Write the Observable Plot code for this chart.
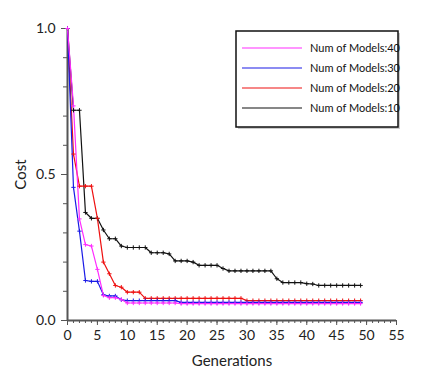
<!DOCTYPE html>
<html><head><meta charset="utf-8">
<script src="https://cdn.jsdelivr.net/npm/d3@7"></script>
<script src="https://cdn.jsdelivr.net/npm/@observablehq/plot@0.6"></script>
<style>
body{margin:0;background:#fff;}
#chart svg{font-family:Lato,"Liberation Sans",sans-serif;}
</style></head>
<body><div id="chart"></div>
<script>
const generations = d3.range(0, 50);
const seriesNames = ["Num of Models:40", "Num of Models:30", "Num of Models:20", "Num of Models:10"];
const seriesColors = ["#ff2cff", "#1a1ae6", "#ee1111", "#111111"];
const models40 = [1.0,0.735,0.348,0.26,0.255,0.175,0.086,0.078,0.078,0.072,
  0.06,0.06,0.06,0.06,0.06,0.06,0.06,0.06,0.06,0.058,
  0.058,0.058,0.058,0.058,0.058,0.058,0.058,0.058,0.058,0.058,
  0.058,0.058,0.058,0.058,0.058,0.058,0.058,0.058,0.058,0.058,
  0.058,0.058,0.058,0.058,0.058,0.058,0.058,0.058,0.058,0.058];
const models30 = [1.0,0.456,0.306,0.137,0.134,0.134,0.088,0.084,0.084,0.071,
  0.068,0.068,0.068,0.068,0.068,0.068,0.068,0.068,0.068,0.062,
  0.062,0.062,0.062,0.062,0.062,0.062,0.062,0.062,0.062,0.062,
  0.062,0.062,0.062,0.062,0.062,0.062,0.062,0.062,0.062,0.062,
  0.062,0.062,0.062,0.062,0.062,0.062,0.062,0.062,0.062,0.062];
const models20 = [1.0,0.57,0.46,0.46,0.46,0.35,0.2,0.16,0.12,0.114,
  0.097,0.097,0.097,0.076,0.076,0.076,0.076,0.076,0.076,0.076,
  0.076,0.076,0.076,0.076,0.076,0.076,0.076,0.076,0.076,0.076,
  0.068,0.068,0.068,0.068,0.068,0.068,0.068,0.068,0.068,0.068,
  0.068,0.068,0.068,0.068,0.068,0.068,0.068,0.068,0.068,0.068];
const models10 = [1.0,0.72,0.72,0.37,0.35,0.35,0.31,0.28,0.28,0.255,
  0.25,0.25,0.25,0.25,0.232,0.232,0.232,0.228,0.204,0.204,
  0.204,0.2,0.189,0.189,0.189,0.189,0.178,0.17,0.17,0.17,
  0.17,0.17,0.17,0.17,0.17,0.143,0.13,0.13,0.13,0.13,
  0.126,0.125,0.12,0.12,0.12,0.12,0.12,0.12,0.12,0.12];
const xMajorTicks = [0,5,10,15,20,25,30,35,40,45,50,55];
const yMajorTicks = [0, 0.5, 1.0];

const seriesValues = [models40, models30, models20, models10];
const drawOrder = [3, 2, 1, 0];
const rows = [];
for (const i of drawOrder) {
  generations.forEach((g, j) => rows.push({gen: g, cost: seriesValues[i][j], series: seriesNames[i]}));
}

const plot = Plot.plot({
  width: 428, height: 374,
  marginLeft: 67, marginRight: 32, marginTop: 28, marginBottom: 54,
  style: {fontSize: "13px", fontFamily: "Lato, 'Liberation Sans', sans-serif"},
  x: {domain: [0, 55]},
  y: {domain: [0, 1]},
  color: {domain: seriesNames, range: seriesColors},
  marks: [
    Plot.axisX({ticks: d3.range(0, 56), tickSize: 3, tickFormat: () => "", stroke: "#555", label: null}),
    Plot.axisX({ticks: xMajorTicks, tickSize: 5, tickPadding: 5, tickFormat: d => d, stroke: "#555", fill: "#222",
      fontSize: 14, label: null}),
    Plot.text(["Generations"], {frameAnchor: "bottom", dy: 41, lineAnchor: "middle", fontSize: 15, fill: "#222"}),
    Plot.axisY({ticks: d3.range(0, 1.01, 0.1), tickSize: 4, tickFormat: () => "", stroke: "#555", label: null}),
    Plot.axisY({ticks: yMajorTicks, tickSize: 6, tickPadding: 6, tickFormat: d3.format(".1f"), stroke: "#555", fill: "#222",
      fontSize: 14, label: "Cost", labelAnchor: "center", labelArrow: "none", labelOffset: 52}),
    Plot.ruleX([0], {stroke: "#555", strokeWidth: 2}),
    Plot.ruleY([0], {stroke: "#555", strokeWidth: 2}),
    Plot.line(rows, {x: "gen", y: "cost", z: "series", stroke: "series", strokeWidth: 1.2}),
    Plot.dot(rows, {x: "gen", y: "cost", stroke: "series", symbol: "plus", r: 1.5, strokeWidth: 1})
  ]
});
document.getElementById("chart").appendChild(plot);

// enlarge the y axis title
d3.select(plot).selectAll("g[aria-label='y-axis label'] text").attr("font-size", 15);

// legend box
const svg = d3.select(plot);
const lg = svg.append("g").attr("transform", "translate(236,31)");
lg.append("rect").attr("x", 2).attr("y", 2).attr("width", 162).attr("height", 96).attr("fill", "#ccc");
lg.append("rect").attr("width", 162).attr("height", 96).attr("fill", "#fff").attr("stroke", "#111").attr("stroke-width", 1.5);
seriesNames.forEach((name, i) => {
  const y = 17 + i * 20;
  lg.append("line").attr("x1", 6).attr("x2", 66).attr("y1", y).attr("y2", y)
    .attr("stroke", seriesColors[i]).attr("stroke-width", 1.2);
  lg.append("text").attr("x", 74).attr("y", y).attr("dy", "0.35em").attr("text-anchor", "start")
    .attr("font-size", 11).attr("fill", "#111").text(name);
});
</script>
</body></html>
